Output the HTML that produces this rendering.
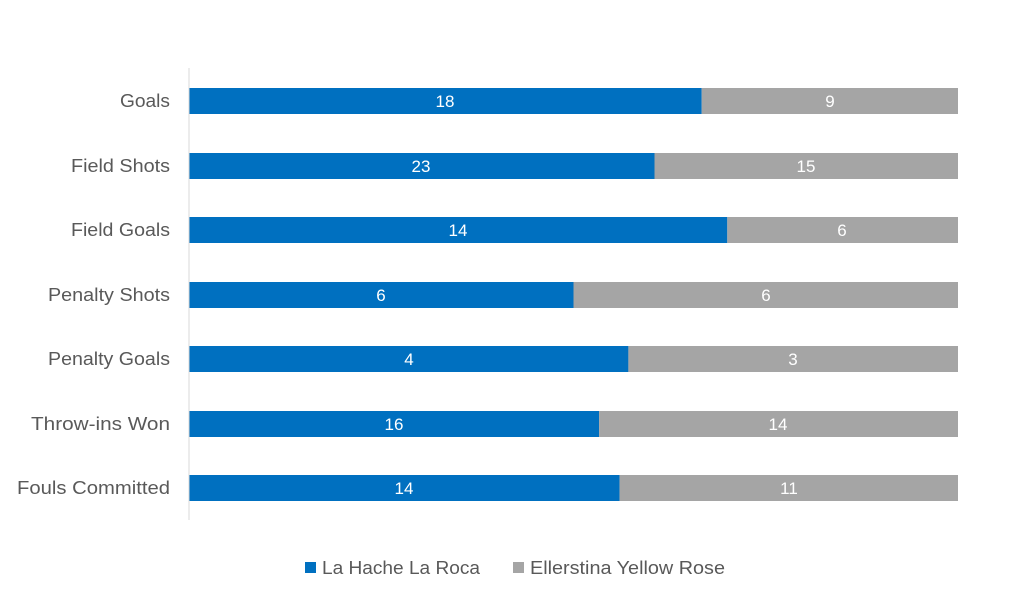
<!DOCTYPE html>
<html><head><meta charset="utf-8"><style>
body{margin:0;background:#fff;}
svg{display:block;font-family:"Liberation Sans",sans-serif;}
</style></head><body>
<svg width="1024" height="603" xmlns="http://www.w3.org/2000/svg">
<rect width="1024" height="603" fill="#fff"/>
<g font-size="18.5" fill="#595959" text-anchor="end">
<text x="170" y="107" textLength="50" lengthAdjust="spacingAndGlyphs">Goals</text>
<text x="170" y="172" textLength="99" lengthAdjust="spacingAndGlyphs">Field Shots</text>
<text x="170" y="236" textLength="99" lengthAdjust="spacingAndGlyphs">Field Goals</text>
<text x="170" y="301" textLength="122" lengthAdjust="spacingAndGlyphs">Penalty Shots</text>
<text x="170" y="365" textLength="122" lengthAdjust="spacingAndGlyphs">Penalty Goals</text>
<text x="170" y="430" textLength="139" lengthAdjust="spacingAndGlyphs">Throw-ins Won</text>
<text x="170" y="494" textLength="153" lengthAdjust="spacingAndGlyphs">Fouls Committed</text>
</g>
<g>
<rect x="189" y="88" width="512.7" height="26" fill="#0070c0"/><rect x="701.7" y="88" width="256.3" height="26" fill="#a5a5a5"/>
<rect x="189" y="153" width="465.5" height="26" fill="#0070c0"/><rect x="654.5" y="153" width="303.5" height="26" fill="#a5a5a5"/>
<rect x="189" y="217" width="538.3" height="26" fill="#0070c0"/><rect x="727.3" y="217" width="230.7" height="26" fill="#a5a5a5"/>
<rect x="189" y="282" width="384.5" height="26" fill="#0070c0"/><rect x="573.5" y="282" width="384.5" height="26" fill="#a5a5a5"/>
<rect x="189" y="346" width="439.4" height="26" fill="#0070c0"/><rect x="628.4" y="346" width="329.6" height="26" fill="#a5a5a5"/>
<rect x="189" y="411" width="410.1" height="26" fill="#0070c0"/><rect x="599.1" y="411" width="358.9" height="26" fill="#a5a5a5"/>
<rect x="189" y="475" width="430.6" height="26" fill="#0070c0"/><rect x="619.6" y="475" width="338.4" height="26" fill="#a5a5a5"/>
</g>
<line x1="189" y1="68" x2="189" y2="520" stroke="#d9d9d9" stroke-width="1"/>
<g font-size="17" fill="#fff" text-anchor="middle">
<text x="445" y="107">18</text><text x="830" y="107">9</text>
<text x="421" y="172">23</text><text x="806" y="172">15</text>
<text x="458" y="236">14</text><text x="842" y="236">6</text>
<text x="381" y="301">6</text><text x="766" y="301">6</text>
<text x="409" y="365">4</text><text x="793" y="365">3</text>
<text x="394" y="430">16</text><text x="778" y="430">14</text>
<text x="404" y="494">14</text><text x="789" y="494">11</text>
</g>
<rect x="305" y="562" width="11" height="11" fill="#0070c0"/>
<text x="322" y="574" font-size="18.5" fill="#595959" textLength="158" lengthAdjust="spacingAndGlyphs">La Hache La Roca</text>
<rect x="513" y="562" width="11" height="11" fill="#a5a5a5"/>
<text x="530" y="574" font-size="18.5" fill="#595959" textLength="195" lengthAdjust="spacingAndGlyphs">Ellerstina Yellow Rose</text>
</svg>
</body></html>
